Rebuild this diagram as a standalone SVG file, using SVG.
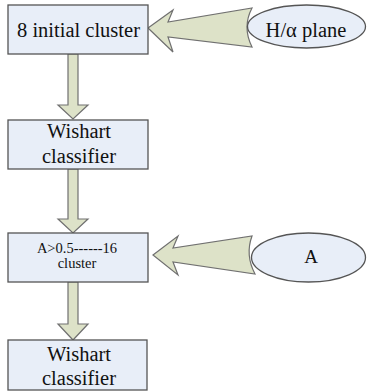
<svg xmlns="http://www.w3.org/2000/svg" width="367" height="392" viewBox="0 0 367 392">
<style>
.box{fill:#E8EEF8;stroke:#555555;stroke-width:1.3}
.ell{fill:#E8EEF8;stroke:#555555;stroke-width:1.3}
.arr{fill:#DDE2C8;stroke:#707070;stroke-width:1.2;stroke-linejoin:miter}
text{font-family:"Liberation Serif","Times New Roman",serif;fill:#111111;text-anchor:middle}
.big{font-size:20.5px}
.small{font-size:14.5px}
</style>
<rect width="367" height="392" fill="#ffffff"/>
<g id="connectors">
<path class="arr" d="M148,28 L173,10 L168,22 L252,8 Q242,27 252,47 L168,37 L173,52 Z"/>
<path class="arr" d="M153,255 L178,236 L173,248 L252,236 Q245,255 255,274 L173,262 L178,275 Z"/>
<path class="arr" d="M68,54 L78,54 L78,105 L88,105 L73,119 L58,105 L68,105 Z"/>
<path class="arr" d="M68,169 L78,169 L78,219 L88,219 L73,233 L58,219 L68,219 Z"/>
<path class="arr" d="M68,282 L78,282 L78,324 L88,324 L73,340 L58,324 L68,324 Z"/>
</g>
<g id="node-initial">
<rect class="box" x="8" y="5" width="140" height="49"/>
<text class="big" font-family="Liberation Serif, serif" x="78.5" y="37">8 initial cluster</text>
</g>
<g id="node-halpha">
<ellipse class="ell" cx="306.5" cy="26.5" rx="59" ry="21.5"/>
<text class="big" font-family="Liberation Serif, serif" x="306" y="36.5">H/α plane</text>
</g>
<g id="node-wishart1">
<rect class="box" x="8" y="120" width="140" height="49"/>
<text class="big" font-family="Liberation Serif, serif" x="79" y="138">Wishart</text>
<text class="big" font-family="Liberation Serif, serif" x="79" y="163">classifier</text>
</g>
<g id="node-a16">
<rect class="box" x="8" y="233" width="140" height="49"/>
<text class="small" font-family="Liberation Serif, serif" x="77" y="253">A&gt;0.5------16</text>
<text class="small" font-family="Liberation Serif, serif" x="77" y="268">cluster</text>
</g>
<g id="node-A">
<ellipse class="ell" cx="308.5" cy="257.5" rx="57" ry="24.5"/>
<text font-family="Liberation Serif, serif" style="font-size:19px" x="311" y="263">A</text>
</g>
<g id="node-wishart2">
<rect class="box" x="8" y="340" width="139" height="50"/>
<text class="big" font-family="Liberation Serif, serif" x="79" y="361">Wishart</text>
<text class="big" font-family="Liberation Serif, serif" x="79" y="385">classifier</text>
</g>
</svg>
